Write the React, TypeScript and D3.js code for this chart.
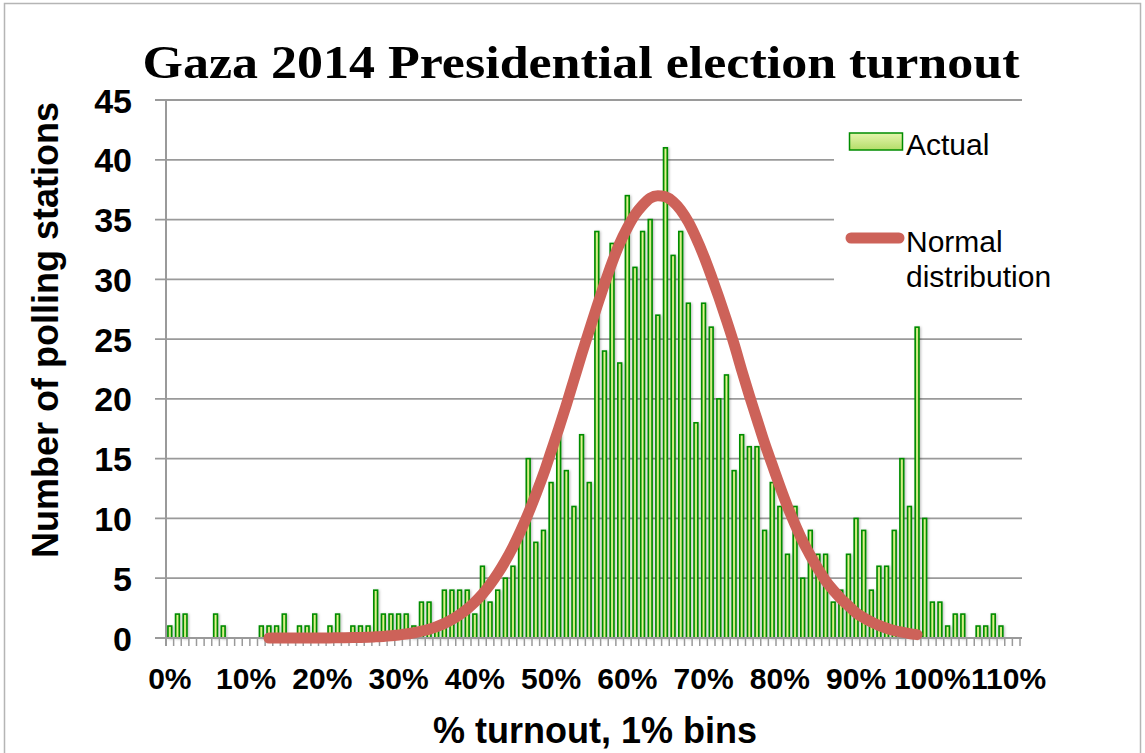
import { useEffect, useRef } from 'react';
import * as d3 from 'd3';

// 1% turnout bins, 0% .. 111%
const binLabels = d3.range(0, 112).map((i) => `${i}%`);
const axisLabels = ['0%', '10%', '20%', '30%', '40%', '50%', '60%', '70%', '80%', '90%', '100%', '110%'];

// polling stations per bin
const stationCounts = [
  1, 2, 2, 0, 0, 0, 2, 1, 0, 0,
  0, 0, 1, 1, 1, 2, 0, 1, 1, 2,
  0, 1, 2, 0, 1, 1, 1, 4, 2, 2,
  2, 2, 1, 3, 3, 1, 4, 4, 4, 4,
  2, 6, 3, 4, 5, 6, 9, 15, 8, 9,
  13, 17, 14, 11, 17, 13, 34, 24, 33, 23,
  37, 31, 34, 35, 27, 41, 32, 34, 28, 18,
  28, 26, 20, 22, 14, 17, 16, 16, 9, 13,
  11, 7, 11, 5, 9, 7, 7, 3, 4, 7,
  10, 9, 4, 6, 6, 9, 15, 11, 26, 10,
  3, 3, 1, 2, 2, 0, 1, 1, 2, 1,
  0, 0,
];

// normal distribution curve, one value per bin starting at 13%
const normalStartBin = 13;
const normalCurve = [
  0, 0, 0, 0, 0, 0, 0, 0.01, 0.01, 0.02, 0.03, 0.04,
  0.05, 0.07, 0.1, 0.13, 0.18, 0.25, 0.33, 0.44, 0.57, 0.74,
  0.96, 1.22, 1.55, 1.95, 2.43, 3.0, 3.67, 4.47, 5.39, 6.44,
  7.62, 8.94, 10.4, 12.0, 13.7, 15.6, 17.5, 19.5, 21.6, 23.7,
  25.7, 27.7, 29.6, 31.4, 33.0, 34.3, 35.4, 36.2, 36.8, 37.0,
  36.9, 36.5, 35.8, 34.8, 33.5, 32.0, 30.3, 28.5, 26.6, 24.6,
  22.4, 20.3, 18.3, 16.3, 14.5, 12.7, 11.0, 9.5, 8.1, 6.9,
  5.8, 4.8, 4.0, 3.3, 2.7, 2.1, 1.7, 1.35, 1.06, 0.82,
  0.63, 0.49, 0.37, 0.28,
];

const yTicks = [0, 5, 10, 15, 20, 25, 30, 35, 40, 45];

const WIDTH = 1145;
const HEIGHT = 753;
const SANS = '"Liberation Sans", Arial, Helvetica, sans-serif';
const GRID = '#9a9a9a';
const CURVE = '#cd6259';
const BAR_STROKE = '#008c00';

export default function App() {
  const svgRef = useRef<SVGSVGElement>(null);

  useEffect(() => {
    if (!svgRef.current) return;
    const svg = d3.select(svgRef.current);
    svg.selectAll('*').remove();

    const left = 166;
    const right = 1020;
    const top = 100;
    const bottom = 638;

    const x = d3.scaleBand<string>().domain(binLabels).range([left, right]).paddingInner(0.5).paddingOuter(0.25);
    const y = d3.scaleLinear().domain([0, 45]).range([bottom, top]);
    const step = (right - left) / binLabels.length;

    const defs = svg.append('defs');
    const barGrad = defs.append('linearGradient').attr('id', 'barGrad').attr('x1', '0').attr('x2', '1').attr('y1', '0').attr('y2', '0');
    barGrad.append('stop').attr('offset', '0%').attr('stop-color', '#8ccd3c');
    barGrad.append('stop').attr('offset', '50%').attr('stop-color', '#e2f396');
    barGrad.append('stop').attr('offset', '100%').attr('stop-color', '#98d248');
    const legGrad = defs.append('linearGradient').attr('id', 'legGrad').attr('x1', '0').attr('x2', '0').attr('y1', '0').attr('y2', '1');
    legGrad.append('stop').attr('offset', '0%').attr('stop-color', '#e6f5ae');
    legGrad.append('stop').attr('offset', '100%').attr('stop-color', '#b3dd68');
    const shadow = defs.append('filter').attr('id', 'barShadow').attr('x', '-50%').attr('y', '-5%').attr('width', '200%').attr('height', '110%');
    shadow.append('feDropShadow').attr('dx', 1.2).attr('dy', 0.6).attr('stdDeviation', 0.9)
      .attr('flood-color', '#000').attr('flood-opacity', 0.25);

    // outer frame
    svg.append('rect')
      .attr('x', 4.5).attr('y', 3.5).attr('width', 1136).attr('height', 780)
      .attr('fill', 'white').attr('stroke', '#b5b5b5').attr('stroke-width', 1.5);

    // gridlines + y ticks
    svg.append('g').selectAll('line').data(yTicks.filter((t) => t > 0)).join('line')
      .attr('x1', left - 11).attr('x2', right + 2)
      .attr('y1', (d) => y(d)).attr('y2', (d) => y(d))
      .attr('stroke', GRID).attr('stroke-width', 1.8);

    svg.append('g').selectAll('text').data(yTicks).join('text')
      .attr('x', 132).attr('y', (d) => y(d) + 12.5)
      .attr('text-anchor', 'end')
      .attr('font-family', SANS).attr('font-weight', 'bold').attr('font-size', 34)
      .text((d) => d);

    // bars
    svg.append('g').attr('filter', 'url(#barShadow)')
      .selectAll('rect').data(stationCounts.map((v, i) => ({ label: binLabels[i], value: v })).filter((d) => d.value > 0))
      .join('rect')
      .attr('x', (d) => x(d.label)!)
      .attr('width', x.bandwidth())
      .attr('y', (d) => y(d.value))
      .attr('height', (d) => y(0) - y(d.value))
      .attr('fill', 'url(#barGrad)')
      .attr('stroke', BAR_STROKE).attr('stroke-width', 1.6);

    // axes
    svg.append('line').attr('x1', left).attr('x2', left).attr('y1', top).attr('y2', bottom + 8)
      .attr('stroke', GRID).attr('stroke-width', 2);
    svg.append('line').attr('x1', left - 11).attr('x2', right + 2).attr('y1', bottom).attr('y2', bottom)
      .attr('stroke', GRID).attr('stroke-width', 2);
    svg.append('g').selectAll('line').data(d3.range(0, binLabels.length + 1)).join('line')
      .attr('x1', (i) => left + i * step)
      .attr('x2', (i) => left + i * step)
      .attr('y1', bottom).attr('y2', bottom + 8)
      .attr('stroke', GRID).attr('stroke-width', 1.5);

    svg.append('g').selectAll('text').data(axisLabels).join('text')
      .attr('x', (d) => x(d)! + x.bandwidth() / 2)
      .attr('y', 689)
      .attr('text-anchor', 'middle')
      .attr('font-family', SANS).attr('font-weight', 'bold').attr('font-size', 30)
      .text((d) => d);

    // normal curve
    const curvePts = normalCurve.map((v, i) => ({ label: binLabels[normalStartBin + i], value: v }));
    const line = d3.line<{ label: string; value: number }>()
      .x((d) => x(d.label)! + x.bandwidth() / 2)
      .y((d) => y(d.value))
      .curve(d3.curveMonotoneX);
    svg.append('path').datum(curvePts)
      .attr('d', line)
      .attr('fill', 'none').attr('stroke', CURVE).attr('stroke-width', 11)
      .attr('stroke-linecap', 'round').attr('stroke-linejoin', 'round');

    // legend
    const lg = svg.append('g');
    lg.append('rect').attr('x', 834).attr('y', 110).attr('width', 300).attr('height', 192).attr('fill', 'white');
    lg.append('rect').attr('x', 849.5).attr('y', 133).attr('width', 53).attr('height', 17)
      .attr('fill', 'url(#legGrad)').attr('stroke', BAR_STROKE).attr('stroke-width', 1.5);
    lg.append('text').attr('x', 906).attr('y', 155)
      .attr('font-family', SANS).attr('font-size', 30).text('Actual');
    lg.append('line').attr('x1', 851).attr('x2', 899).attr('y1', 238).attr('y2', 238)
      .attr('stroke', CURVE).attr('stroke-width', 11).attr('stroke-linecap', 'round');
    lg.append('text').attr('x', 906).attr('y', 252)
      .attr('font-family', SANS).attr('font-size', 30).text('Normal');
    lg.append('text').attr('x', 906).attr('y', 287)
      .attr('font-family', SANS).attr('font-size', 30).text('distribution');

    // titles
    svg.append('text').attr('x', 581).attr('y', 78)
      .attr('text-anchor', 'middle')
      .attr('font-family', '"Liberation Serif", "Times New Roman", serif').attr('font-weight', 'bold').attr('font-size', 47)
      .attr('textLength', 877).attr('lengthAdjust', 'spacingAndGlyphs')
      .text('Gaza 2014 Presidential election turnout');

    svg.append('text').attr('transform', 'translate(58,330) rotate(-90)')
      .attr('text-anchor', 'middle')
      .attr('font-family', SANS).attr('font-weight', 'bold').attr('font-size', 36)
      .text('Number of polling stations');

    svg.append('text').attr('x', 595).attr('y', 743)
      .attr('text-anchor', 'middle')
      .attr('font-family', SANS).attr('font-weight', 'bold').attr('font-size', 36)
      .text('% turnout, 1% bins');
  }, []);

  return (
    <svg
      ref={svgRef}
      width={WIDTH}
      height={HEIGHT}
      style={{ position: 'absolute', left: 0, top: 0, background: 'white' }}
    />
  );
}
